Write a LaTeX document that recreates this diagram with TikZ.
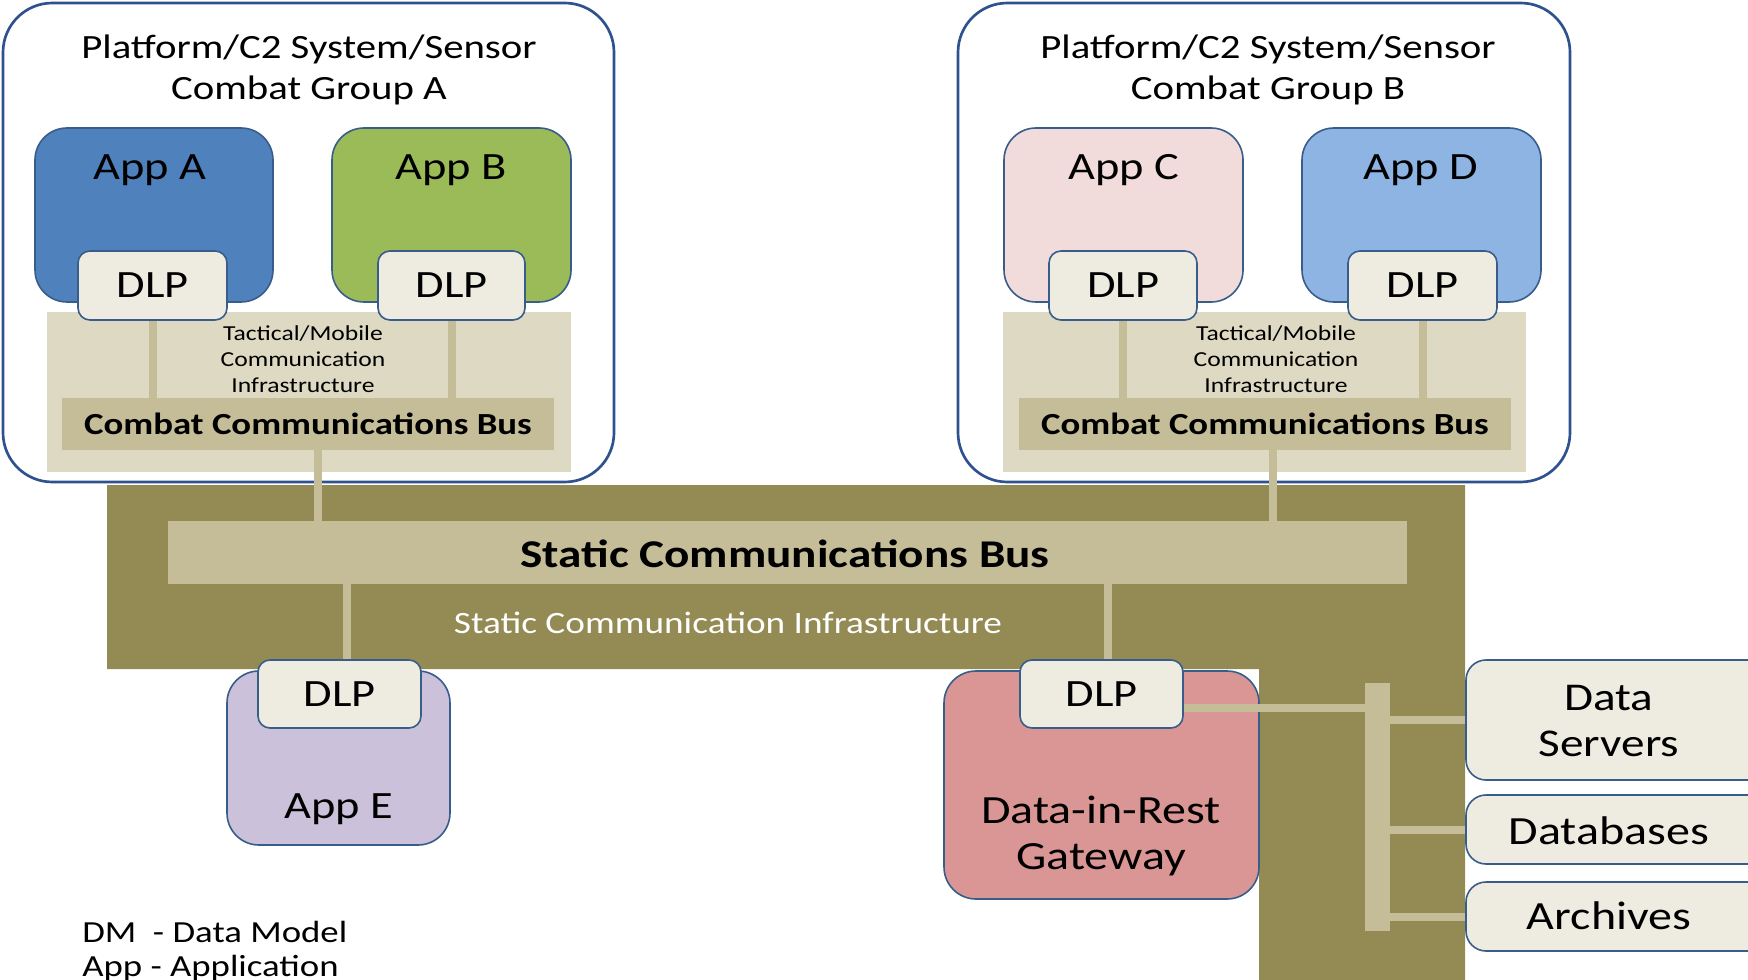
\documentclass[tikz,border=0pt]{standalone}
\usepackage{fontspec}
\setmainfont{Carlito}[FakeStretch=1.2]
\definecolor{grpblue}{HTML}{2F528F}
\definecolor{boxblue}{HTML}{385D8A}
\definecolor{appa}{HTML}{4F81BD}
\definecolor{appb}{HTML}{9BBB59}
\definecolor{appc}{HTML}{F2DCDB}
\definecolor{appd}{HTML}{8EB4E3}
\definecolor{appe}{HTML}{CCC1DA}
\definecolor{gwfill}{HTML}{D99694}
\definecolor{dlpfill}{HTML}{EEECE1}
\definecolor{tacfill}{HTML}{DDD9C3}
\definecolor{busfill}{HTML}{C4BD97}
\definecolor{olive}{HTML}{948A54}
\newcommand\mkbox[6]{\node[#6, minimum width={(#4-#2)*0.75pt}, minimum height={(#5-#3)*0.75pt}] (#1) at ({(#2+#4)/2},{(#3+#5)/2}) {};}
\tikzset{
  grp/.style={draw=grpblue, line width=2pt, rounded corners=37pt, fill=white, inner sep=0pt},
  appbox/.style={draw=boxblue, line width=1.2pt, rounded corners=24pt, inner sep=0pt},
  dlpbox/.style={draw=boxblue, line width=1.2pt, rounded corners=9pt, fill=dlpfill, inner sep=0pt},
  databox/.style={draw=boxblue, line width=1.2pt, rounded corners=15pt, fill=dlpfill, inner sep=0pt},
  tac/.style={fill=tacfill, draw=none, inner sep=0pt},
  busbar/.style={fill=busfill, draw=none, inner sep=0pt},
  conn/.style={draw=busfill, line width=6pt},
  txt/.style={inner sep=0pt, align=center, text=black},
  title/.style={txt, font=\fontsize{25.5}{30.75}\selectfont},
  apptxt/.style={txt, font=\fontsize{29}{34}\selectfont},
  bigtxt/.style={txt, font=\fontsize{30}{35}\selectfont},
  smalltxt/.style={txt, font=\fontsize{16}{19.5}\selectfont},
  bustxt/.style={txt, font=\fontsize{23}{28}\selectfont\bfseries},
}
\begin{document}
\begin{tikzpicture}[x=0.75pt, y=-0.75pt]
\clip (0,0) rectangle (1748,980);
\fill[white] (0,0) rectangle (1748,980);
% groups
\mkbox{grpA}{3}{3}{614}{482}{grp}
\mkbox{grpB}{958}{3}{1570}{482}{grp}
\mkbox{tacA}{47}{312}{571}{472}{tac}
\mkbox{tacB}{1003}{312}{1526}{472}{tac}
\mkbox{appA}{35}{128}{273}{302}{appbox, fill=appa}
\mkbox{appB}{332}{128}{571}{302}{appbox, fill=appb}
\mkbox{appC}{1004}{128}{1243}{302}{appbox, fill=appc}
\mkbox{appD}{1302}{128}{1541}{302}{appbox, fill=appd}
\mkbox{dlpA}{78}{251}{227}{320}{dlpbox}
\mkbox{dlpB}{378}{251}{525}{320}{dlpbox}
\mkbox{dlpC}{1049}{251}{1197}{320}{dlpbox}
\mkbox{dlpD}{1348}{251}{1497}{320}{dlpbox}
\mkbox{ccbA}{62}{398}{554}{450}{busbar}
\mkbox{ccbB}{1019}{398}{1511}{450}{busbar}
\draw[conn] (dlpA.south) -- (dlpA.south |- ccbA.north);
\draw[conn] (dlpB.south) -- (dlpB.south |- ccbA.north);
\draw[conn] (dlpC.south) -- (dlpC.south |- ccbB.north);
\draw[conn] (dlpD.south) -- (dlpD.south |- ccbB.north);
% static infrastructure
\fill[olive] (107,485) -- (1465,485) -- (1465,980) -- (1259,980) -- (1259,669) -- (107,669) -- cycle;
\mkbox{scb}{168}{521}{1407}{584}{busbar}
\draw[conn] ([xshift=7.5pt]ccbA.south) -- ([xshift=7.5pt]ccbA.south |- scb.north);
\draw[conn] ([xshift=6pt]ccbB.south) -- ([xshift=6pt]ccbB.south |- scb.north);
\mkbox{appE}{227}{671}{450}{845}{appbox, fill=appe}
\mkbox{gw}{944}{671}{1259}{899}{appbox, fill=gwfill}
\mkbox{dlpE}{258}{660}{421}{728}{dlpbox}
\mkbox{dlpG}{1020}{660}{1183}{728}{dlpbox}
\draw[conn] ([xshift=5.6pt]dlpE.north |- scb.south) -- ([xshift=5.6pt]dlpE.north);
\draw[conn] ([xshift=4.9pt]dlpG.north |- scb.south) -- ([xshift=4.9pt]dlpG.north);
\mkbox{trunk}{1365}{683}{1390}{931}{busbar}
\coordinate (gj) at (1365,708);
\draw[conn] (dlpG.east |- gj) -- (gj);
\mkbox{ds}{1466}{660}{1770}{780}{databox}
\mkbox{db}{1466}{795}{1770}{864}{databox}
\mkbox{ar}{1466}{882}{1770}{951}{databox}
\draw[conn] (trunk.east |- ds.west) -- (ds.west);
\draw[conn] (trunk.east |- db.west) -- (db.west);
\draw[conn] (trunk.east |- ar.west) -- (ar.west);
% texts
\node[title] (tA) at (309,70) {Platform/C2 System/Sensor\\Combat Group A};
\node[title] (tB) at (1268,70) {Platform/C2 System/Sensor\\Combat Group B};
\node[apptxt] (lA) at (150,170) {App A};
\node[apptxt] (lB) at (451,170) {App B};
\node[apptxt] (lC) at (1124,170) {App C};
\node[apptxt] (lD) at (1421,170) {App D};
\node[apptxt] (xA) at (dlpA) {DLP};
\node[apptxt] (xB) at (dlpB) {DLP};
\node[apptxt] (xC) at (dlpC) {DLP};
\node[apptxt] (xD) at (dlpD) {DLP};
\node[smalltxt] (tmA) at (303,359) {Tactical/Mobile\\Communication\\Infrastructure};
\node[smalltxt] (tmB) at (1276,359) {Tactical/Mobile\\Communication\\Infrastructure};
\node[bustxt] (bA) at (ccbA) {Combat Communications Bus};
\node[bustxt] (bB) at (ccbB) {Combat Communications Bus};
\node[txt, font=\fontsize{29.5}{34}\selectfont\bfseries] (bS) at (785,554) {Static Communications Bus};
\node[txt, text=white, font=\fontsize{23.3}{28}\selectfont] (sci) at (728,623) {Static Communication Infrastructure};
\node[apptxt] (lE) at (339,809) {App E};
\node[apptxt] (xE) at (dlpE) {DLP};
\node[apptxt] (xG) at (dlpG) {DLP};
\node[txt, font=\fontsize{30}{34.5}\selectfont] (lG) at (1101,836) {Data-in-Rest\\Gateway};
\node[txt, font=\fontsize{29.5}{35}\selectfont] (lds) at (1609,721) {Data\\Servers};
\node[bigtxt] (ldb) at (1609,831) {Databases};
\node[bigtxt] (lar) at (1609,916) {Archives};
\node[txt, anchor=west, font=\fontsize{23}{28}\selectfont] (lg1) at (82,932) {DM\ \ - Data Model};
\node[txt, anchor=west, font=\fontsize{23}{28}\selectfont] (lg2) at (82,968) {App - Application};
\end{tikzpicture}
\end{document}
